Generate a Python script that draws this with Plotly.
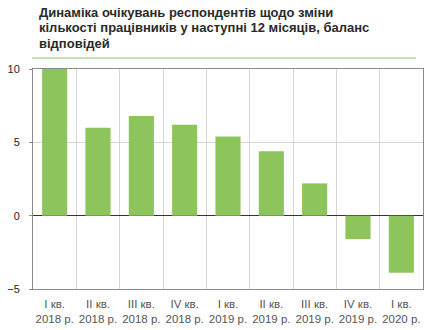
import plotly.graph_objects as go

# Quarterly balance of respondents' expectations on staff numbers
quarters = ["I кв.<br>2018 р.", "II кв.<br>2018 р.", "III кв.<br>2018 р.", "IV кв.<br>2018 р.",
            "I кв.<br>2019 р.", "II кв.<br>2019 р.", "III кв.<br>2019 р.", "IV кв.<br>2019 р.",
            "I кв.<br>2020 р."]
balance = [10.0, 6.0, 6.8, 6.2, 5.4, 4.4, 2.2, -1.6, -3.9]
y_ticks = [-5, 0, 5, 10]

title_lines = ["Динаміка очікувань респондентів щодо зміни",
               "кількості працівників у наступні 12 місяців, баланс",
               "відповідей"]

positions = list(range(len(quarters)))
# grid lines sit on the boundaries between quarters
boundaries = [p + 0.5 for p in positions[:-1]]

fig = go.Figure(go.Bar(x=positions, y=balance, marker=dict(color="#8dc45c", line_width=0)))

annotations = []
for i, line in enumerate(title_lines):
    annotations.append(dict(
        text="<b>" + line + "</b>",
        xref="paper", yref="paper", x=0.012, y=1.259 - i * 0.0726,
        xanchor="left", yanchor="middle", align="left", showarrow=False,
        borderpad=0,
        font=dict(size=13, color="#2a2a2a"),
    ))

fig.update_layout(
    width=445, height=330,
    margin=dict(l=33, r=22, t=69, b=41, autoexpand=False),
    paper_bgcolor="white", plot_bgcolor="white",
    bargap=0.42,
    showlegend=False,
    font=dict(family="Liberation Sans, Arial, sans-serif", color="#333"),
    annotations=annotations,
    shapes=[dict(type="line", xref="paper", yref="paper",
                 x0=-0.003, x1=0.982, y0=1.05, y1=1.05,
                 line=dict(color="#c8e2b4", width=2))],
)

fig.update_xaxes(
    range=[-0.5, len(quarters) - 0.5],
    tickvals=positions, ticktext=quarters, tickangle=0, automargin=False,
    showgrid=False,
    minor=dict(tickvals=boundaries, showgrid=True, gridcolor="#d6d6d6", gridwidth=1, ticks=""),
    showline=True, linecolor="#8a8a8a", linewidth=1, mirror=True,
    ticks="", ticklabelstandoff=4, tickfont=dict(size=11.5, color="#555"),
)
fig.update_yaxes(
    range=[-5, 10], tickvals=y_ticks, automargin=False,
    showgrid=True, gridcolor="#d6d6d6", gridwidth=1,
    zeroline=True, zerolinecolor="#333", zerolinewidth=1,
    showline=True, linecolor="#8a8a8a", linewidth=1, mirror=True,
    ticks="outside", ticklen=3, tickcolor="#8a8a8a",
    ticklabelstandoff=7,
    tickfont=dict(size=11, color="#222"),
)

fig.write_html("out.html")
